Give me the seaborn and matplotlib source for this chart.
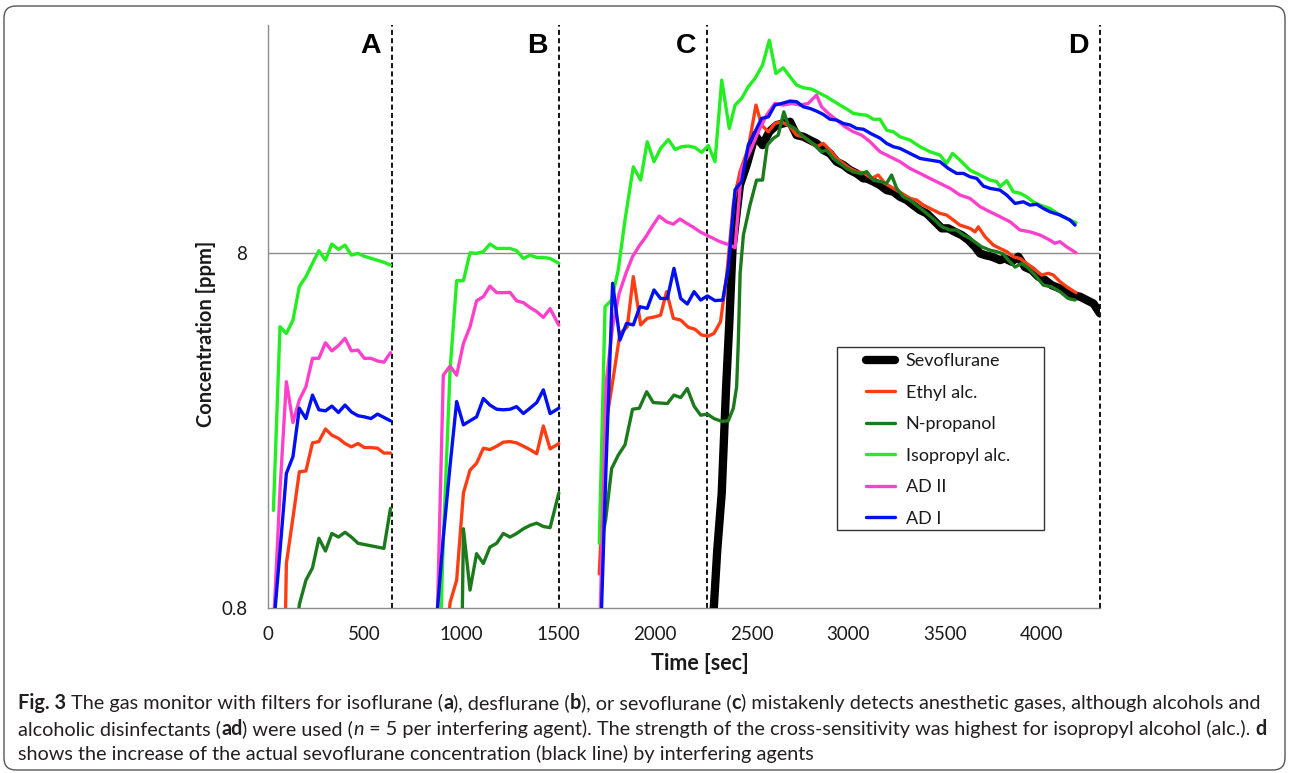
import numpy as np
import pandas as pd
import matplotlib
matplotlib.use("Agg")
import matplotlib.pyplot as plt
import seaborn as sns
from matplotlib.lines import Line2D
from matplotlib.patches import FancyBboxPatch, Rectangle
from matplotlib.transforms import IdentityTransform
from matplotlib.ticker import NullLocator

# ---------------- data ----------------
agents = ["Sevoflurane", "Ethyl alc.", "N-propanol", "Isopropyl alc.", "AD II", "AD I"]
colors = ["#000000", "#FF3D14", "#1B7A1B", "#22EE22", "#FF40CC", "#0010F0"]

phase_ends = [640, 1505, 2270, 4300]
phase_names = ["A", "B", "C", "D"]

x_ticks = [0, 500, 1000, 1500, 2000, 2500, 3000, 3500, 4000]
y_ticks = [0.8, 8]
y_ticklabels = ["0.8", "8"]

# phase A and B sample times (s)
t_A = [28, 62, 95, 129, 162, 196, 230, 263, 297, 330, 364, 398, 431, 465, 498, 532, 566, 599, 633]
t_B = [872, 906, 941, 975, 1010, 1044, 1078, 1113, 1147, 1182, 1216, 1251, 1285, 1320, 1354, 1389, 1423, 1458, 1503]

ethyl_A = [None, 0.1, 1.07, 1.44, 1.94, 1.95, 2.34, 2.36, 2.56, 2.46, 2.41, 2.33, 2.28, 2.33, 2.27, 2.27, 2.26, 2.19, 2.19]
npropanol_A = [None, None, None, 0.55, 0.82, 0.96, 1.04, 1.26, 1.16, 1.30, 1.27, 1.31, 1.27, 1.22, 1.21, 1.20, 1.19, 1.18, 1.53]
isopropyl_A = [1.51, 4.97, 4.76, 5.19, 6.45, 6.88, 7.50, 8.14, 7.66, 8.50, 8.21, 8.44, 7.91, 8.00, 7.85, 7.75, 7.65, 7.55, 7.42]
ad2_A = [0.7, 1.72, 3.48, 2.67, 3.09, 3.37, 4.05, 4.05, 4.48, 4.25, 4.40, 4.61, 4.25, 4.27, 4.05, 4.05, 3.98, 3.95, 4.20]
ad1_A = [0.7, 1.16, 1.92, 2.14, 2.93, 2.74, 3.19, 2.90, 2.88, 2.97, 2.85, 2.99, 2.86, 2.79, 2.77, 2.74, 2.82, 2.76, 2.70]

ethyl_B = [None, 0.5, 0.83, 0.96, 1.69, 1.96, 2.05, 2.26, 2.24, 2.29, 2.35, 2.36, 2.34, 2.29, 2.24, 2.18, 2.61, 2.25, 2.33]
npropanol_B = [None, None, None, 0.05, 1.34, 0.90, 1.14, 1.07, 1.19, 1.22, 1.30, 1.27, 1.30, 1.34, 1.37, 1.39, 1.36, 1.35, 1.69]
isopropyl_B = [0.3, 1.25, 3.75, 6.70, 6.70, 8.03, 8.00, 8.09, 8.50, 8.26, 8.26, 8.26, 8.14, 7.74, 7.91, 7.79, 7.79, 7.74, 7.50]
ad2_B = [0.65, 3.63, 3.85, 3.63, 4.46, 4.97, 5.88, 6.04, 6.47, 6.20, 6.20, 6.21, 5.88, 5.81, 5.63, 5.48, 5.28, 5.59, 5.02]
ad1_B = [0.75, 1.27, 2.02, 3.06, 2.63, 2.70, 2.77, 3.12, 2.99, 2.91, 2.90, 2.91, 2.96, 2.83, 2.93, 3.04, 3.30, 2.83, 2.93]

# phases C + D: (time s, concentration ppm)
sevo_CD = [(2290, 0.6), (2322, 1.17), (2345, 1.69), (2367, 3.3), (2384, 5.08), (2401, 8.3), (2439, 12.46),
           (2474, 14.19), (2517, 17.23), (2556, 16.15), (2591, 17.61), (2629, 18.39), (2663, 18.59), (2698, 18.79),
           (2732, 17.23), (2767, 17.05), (2801, 16.68), (2835, 16.33), (2870, 15.64), (2904, 15.3), (2939, 14.5),
           (2973, 14.19), (3008, 13.73), (3042, 13.44), (3077, 13.01), (3094, 13.01), (3128, 12.75), (3163, 12.46),
           (3197, 12.06), (3232, 11.93), (3266, 11.55), (3301, 11.31), (3335, 10.94), (3370, 10.59), (3404, 10.37),
           (3439, 9.93), (3482, 9.41), (3516, 9.41), (3550, 9.2), (3585, 9.01), (3620, 8.72), (3654, 8.35),
           (3680, 8.0), (3706, 7.91), (3740, 7.83), (3783, 7.66), (3809, 7.74), (3843, 7.58), (3878, 7.83),
           (3912, 7.32), (3947, 7.18), (3981, 6.88), (4016, 6.73), (4050, 6.51), (4093, 6.37), (4128, 6.24),
           (4162, 6.1), (4197, 6.04), (4231, 5.91), (4266, 5.78), (4300, 5.42)]

ethyl_CD = [(1712, 1.0), (1750, 2.71), (1785, 3.59), (1819, 4.76), (1857, 4.97), (1888, 6.88), (1926, 5.03),
            (1960, 5.25), (2000, 5.3), (2029, 5.36), (2060, 6.24), (2095, 5.25), (2133, 5.19), (2173, 4.95),
            (2207, 4.89), (2241, 4.71), (2276, 4.68), (2305, 4.76), (2339, 5.14), (2370, 6.88), (2405, 11.0),
            (2439, 13.58), (2482, 15.81), (2522, 20.94), (2551, 18.39), (2586, 17.61), (2620, 18.59),
            (2655, 18.79), (2698, 18.19), (2732, 17.23), (2767, 17.05), (2801, 16.51), (2835, 15.98),
            (2870, 16.33), (2904, 15.64), (2939, 14.81), (2973, 14.34), (3008, 13.88), (3042, 13.58),
            (3077, 13.5), (3120, 13.01), (3154, 13.3), (3188, 12.6), (3232, 12.2), (3275, 11.82), (3318, 11.43),
            (3352, 11.31), (3387, 10.94), (3421, 10.71), (3473, 10.37), (3507, 10.26), (3542, 9.93), (3576, 9.61),
            (3628, 9.41), (3654, 9.2), (3671, 9.5), (3706, 8.91), (3749, 8.44), (3783, 8.26), (3818, 8.09),
            (3852, 7.83), (3886, 7.74), (3921, 7.5), (3955, 7.26), (3998, 6.95), (4033, 7.03), (4059, 6.95),
            (4093, 6.66), (4128, 6.44), (4176, 6.2)]

npropanol_CD = [(1725, 1.25), (1745, 1.42), (1776, 1.98), (1810, 2.16), (1845, 2.31), (1884, 2.91), (1919, 2.93),
                (1957, 3.26), (1991, 3.04), (2026, 3.03), (2064, 3.02), (2098, 3.19), (2133, 3.14), (2167, 3.33),
                (2202, 2.97), (2236, 2.80), (2271, 2.82), (2305, 2.74), (2345, 2.69), (2379, 2.70), (2405, 2.93),
                (2422, 3.37), (2431, 4.56), (2440, 7.03), (2457, 9.01), (2491, 10.94), (2525, 12.87), (2556, 12.87),
                (2580, 16.15), (2611, 16.86), (2637, 17.23), (2666, 20.04), (2689, 18.39), (2723, 17.99),
                (2758, 17.23), (2792, 16.68), (2827, 16.15), (2861, 15.47), (2887, 15.64), (2922, 14.81),
                (2956, 14.34), (2991, 13.88), (3025, 13.58), (3068, 13.4), (3094, 13.6), (3128, 12.87),
                (3163, 12.75), (3197, 12.6), (3223, 13.3), (3249, 12.2), (3283, 11.55), (3318, 11.31),
                (3361, 10.83), (3404, 10.37), (3447, 9.93), (3482, 9.51), (3525, 9.31), (3559, 9.31), (3594, 9.01),
                (3628, 8.82), (3663, 8.54), (3688, 8.35), (3731, 8.17), (3766, 8.09), (3800, 7.97), (3826, 7.66),
                (3861, 7.32), (3895, 7.5), (3930, 7.26), (3964, 6.95), (4007, 6.51), (4050, 6.44), (4093, 6.24),
                (4136, 5.97), (4171, 5.91)]

isopropyl_CD = [(1712, 1.22), (1742, 5.66), (1776, 5.91), (1810, 7.18), (1845, 9.93), (1888, 14.03), (1926, 12.87),
                (1960, 16.51), (1995, 14.5), (2029, 15.8), (2069, 16.75), (2104, 15.7), (2138, 15.98), (2173, 16.05),
                (2207, 15.9), (2241, 15.4), (2276, 16.1), (2310, 14.5), (2345, 24.62), (2384, 17.99), (2414, 20.94),
                (2448, 21.86), (2482, 23.58), (2517, 24.89), (2556, 27.14), (2591, 31.9), (2625, 25.7),
                (2663, 26.67), (2698, 25.16), (2732, 23.84), (2767, 23.43), (2810, 23.22), (2853, 22.58),
                (2887, 22.1), (2922, 21.49), (2956, 20.94), (2991, 20.4), (3025, 19.84), (3060, 19.7), (3094, 19.6),
                (3128, 19.1), (3163, 19.1), (3197, 17.8), (3232, 17.6), (3266, 17.05), (3318, 16.68), (3370, 15.98),
                (3421, 15.47), (3473, 15.14), (3507, 14.34), (3538, 15.3), (3576, 14.65), (3628, 13.73), (3680, 13.3),
                (3731, 12.87), (3766, 12.75), (3783, 12.33), (3818, 12.82), (3852, 11.93), (3886, 11.82),
                (3921, 11.55), (3955, 11.18), (3990, 10.94), (4041, 10.71), (4093, 10.26), (4145, 9.93), (4176, 9.76)]

ad2_CD = [(1712, 0.6), (1747, 3.44), (1781, 4.97), (1815, 6.17), (1850, 7.03), (1884, 7.83), (1918, 8.39),
          (1953, 8.91), (1987, 9.55), (2022, 10.19), (2060, 9.82), (2095, 9.67), (2129, 10.0), (2160, 9.75),
          (2195, 9.5), (2233, 9.2), (2284, 8.91), (2336, 8.63), (2388, 8.44), (2414, 8.3), (2448, 13.88),
          (2491, 15.47), (2534, 17.61), (2577, 19.62), (2620, 21.16), (2663, 20.94), (2706, 21.16), (2749, 20.94),
          (2792, 21.16), (2835, 22.34), (2861, 20.7), (2896, 19.84), (2939, 18.99), (2982, 18.19), (3025, 17.61),
          (3068, 17.23), (3111, 16.51), (3163, 15.47), (3215, 14.97), (3266, 14.5), (3318, 13.88), (3370, 13.44),
          (3421, 13.01), (3473, 12.6), (3525, 12.2), (3576, 11.68), (3628, 11.43), (3680, 10.83), (3731, 10.48),
          (3783, 10.15), (3835, 9.82), (3886, 9.31), (3938, 9.2), (3990, 9.01), (4041, 8.72), (4067, 8.54),
          (4093, 8.63), (4127, 8.35), (4176, 8.03)]

ad1_CD = [(1712, 0.5), (1747, 2.0), (1781, 6.59), (1819, 4.56), (1853, 5.08), (1888, 5.03), (1922, 5.66),
          (1960, 5.6), (1995, 6.31), (2029, 5.97), (2064, 5.97), (2098, 7.26), (2133, 5.97), (2167, 5.76),
          (2202, 6.24), (2236, 5.91), (2271, 6.07), (2310, 5.89), (2350, 5.91), (2379, 7.3), (2414, 12.1),
          (2448, 12.73), (2482, 16.15), (2517, 17.61), (2551, 19.2), (2586, 19.4), (2620, 20.94), (2655, 21.16),
          (2698, 21.49), (2732, 21.4), (2767, 20.7), (2801, 20.49), (2835, 20.13), (2870, 19.7), (2904, 19.11),
          (2939, 18.99), (2973, 18.59), (3008, 18.4), (3042, 17.99), (3077, 17.9), (3120, 17.35), (3163, 16.9),
          (3197, 16.33), (3232, 15.98), (3266, 15.81), (3318, 15.3), (3370, 14.81), (3421, 14.65), (3473, 14.5),
          (3516, 13.88), (3559, 13.44), (3594, 13.44), (3628, 13.15), (3663, 13.01), (3697, 12.38), (3731, 12.2),
          (3783, 12.06), (3818, 11.68), (3861, 11.06), (3904, 11.18), (3938, 10.94), (3973, 11.0), (4007, 10.71),
          (4041, 10.48), (4093, 10.26), (4145, 9.93), (4171, 9.61)]

caption_lines = [
    [("Fig. 3", "bold", "normal"), (" The gas monitor with filters for isoflurane (", "normal", "normal"),
     ("a", "bold", "normal"), ("), desflurane (", "normal", "normal"), ("b", "bold", "normal"),
     ("), or sevoflurane (", "normal", "normal"), ("c", "bold", "normal"),
     (") mistakenly detects anesthetic gases, although alcohols and", "normal", "normal")],
    [("alcoholic disinfectants (", "normal", "normal"), ("ad", "bold", "normal"),
     (") were used (", "normal", "normal"), ("n", "normal", "italic"),
     (" = 5 per interfering agent). The strength of the cross-sensitivity was highest for isopropyl alcohol (alc.). ",
      "normal", "normal"), ("d", "bold", "normal")],
    [("shows the increase of the actual sevoflurane concentration (black line) by interfering agents",
      "normal", "normal")],
]

# ---------------- long-form table ----------------
phase_series = {
    "Ethyl alc.": (ethyl_A, ethyl_B, ethyl_CD),
    "N-propanol": (npropanol_A, npropanol_B, npropanol_CD),
    "Isopropyl alc.": (isopropyl_A, isopropyl_B, isopropyl_CD),
    "AD II": (ad2_A, ad2_B, ad2_CD),
    "AD I": (ad1_A, ad1_B, ad1_CD),
}
rows = []
for t, v in sevo_CD:
    rows.append(("Sevoflurane", "CD", t, v))
for agent, (a_vals, b_vals, cd_pairs) in phase_series.items():
    for seg, ts, vs in (("A", t_A, a_vals), ("B", t_B, b_vals)):
        for t, v in zip(ts, vs):
            if v is not None:
                rows.append((agent, seg, t, v))
    for t, v in cd_pairs:
        rows.append((agent, "CD", t, v))
df = pd.DataFrame(rows, columns=["agent", "segment", "time", "conc"])

# ---------------- style ----------------
sns.set_theme(style="white")
plt.rcParams["font.family"] = ["Lato", "DejaVu Sans"]
plt.rcParams["lines.solid_capstyle"] = "round"
plt.rcParams["lines.solid_joinstyle"] = "round"

W, H = 1290, 773
fig = plt.figure(figsize=(W / 100, H / 100), dpi=100)
fig.patch.set_facecolor("white")
ax = fig.add_axes([268 / W, 1 - 608.3 / H, 832 / W, 583.3 / H])
ax.set_facecolor("white")

palette = dict(zip(agents, colors))
widths = {a: 2.4 for a in agents}
widths["Sevoflurane"] = 6.0

ax.axhline(8, color="#8c8c8c", lw=1.0, zorder=0.5)
for xe in phase_ends:
    ax.axvline(xe, color="black", lw=1.3, ls=(0, (2.8, 1.8)), zorder=1, clip_on=False)

sns.lineplot(data=df, x="time", y="conc", hue="agent", hue_order=agents, palette=palette,
             size="agent", size_order=agents, sizes=widths, units="segment", estimator=None,
             sort=False, legend=False, ax=ax, zorder=3)

ax.set_yscale("log")
ax.set_xlim(0, 4300)
ax.set_ylim(0.8, 35.2)
ax.set_yticks(y_ticks)
ax.set_yticklabels(y_ticklabels)
ax.yaxis.set_minor_locator(NullLocator())
ax.set_xticks(x_ticks)
ax.set_xticklabels([str(v) for v in x_ticks])

for side in ["top", "right"]:
    ax.spines[side].set_visible(False)
for side in ["left", "bottom"]:
    ax.spines[side].set_color("#8c8c8c")
    ax.spines[side].set_linewidth(1.0)
ax.tick_params(axis="both", which="major", direction="out", length=4, width=1.0, color="#8c8c8c",
               labelsize=13.5, labelcolor="#1a1a1a")
ax.tick_params(axis="y", pad=11)
ax.tick_params(axis="x", pad=9)

ax.set_xlabel("Time [sec]", fontsize=15.5, fontweight="bold", color="#1a1a1a")
ax.set_ylabel("Concentration [ppm]", fontsize=14.5, fontweight="bold", color="#1a1a1a")
ax.xaxis.label.set_va("center")
ax.yaxis.label.set_va("center")
ax.xaxis.set_label_coords((700 - 268) / 832, (608.3 - 663) / 583.3)
ax.yaxis.set_label_coords((206 - 268) / 832, (608.3 - 334) / 583.3)

for xe, name in zip(phase_ends, phase_names):
    ax.annotate(name, xy=(xe, 1), xycoords=("data", "axes fraction"), xytext=(-8, -15),
                textcoords="offset points", ha="right", va="center", fontsize=20.5,
                fontweight="bold", family=["Liberation Sans", "DejaVu Sans"], color="black")

# legend (frame drawn separately)
handles = [Line2D([0], [0], color=palette[a], lw=(6.0 if a == "Sevoflurane" else 2.4),
                  solid_capstyle="round") for a in agents]
leg = ax.legend(handles, agents, loc="upper left",
                bbox_to_anchor=((866 - 268) / 832, (608.3 - 353) / 583.3),
                frameon=False, fontsize=13, handlelength=1.6, handletextpad=0.6,
                labelspacing=0.86, borderpad=0, borderaxespad=0)
for txt in leg.get_texts():
    txt.set_color("#1a1a1a")
ax.add_patch(Rectangle(((837 - 268) / 832, (608.3 - 530) / 583.3), (1044 - 837) / 832, (530 - 347) / 583.3,
                       transform=ax.transAxes, fill=False, edgecolor="#333333", lw=1.0, zorder=5,
                       clip_on=False))

# caption
renderer = fig.canvas.get_renderer()
cap_family = ["Lato", "DejaVu Sans"]


def seg_width(s, size, weight, style):
    t = fig.text(0, 0, "|" + s + "|", fontsize=size, fontweight=weight, fontstyle=style, family=cap_family)
    w1 = t.get_window_extent(renderer=renderer).width
    t.set_text("||")
    w0 = t.get_window_extent(renderer=renderer).width
    t.remove()
    return w1 - w0


base = 12.0
w_line1 = sum(seg_width(s, base, wt, st) for s, wt, st in caption_lines[0])
cap_size = base * (1262 - 18) / w_line1
baselines = [709, 735, 760]
for line, yb in zip(caption_lines, baselines):
    cur = 18.0
    for s, wt, st in line:
        fig.text(cur / W, 1 - yb / H, s, fontsize=cap_size, fontweight=wt, fontstyle=st, family=cap_family,
                 ha="left", va="baseline", color="#231f20")
        cur += seg_width(s, cap_size, wt, st)

# rounded outer frame
fig.patches.append(FancyBboxPatch((4, 3), W - 9, H - 9, boxstyle="round,pad=0,rounding_size=12",
                                  transform=IdentityTransform(), fill=False, edgecolor="#555555", lw=1.0))

fig.savefig("out.png", dpi=100, facecolor="white")
